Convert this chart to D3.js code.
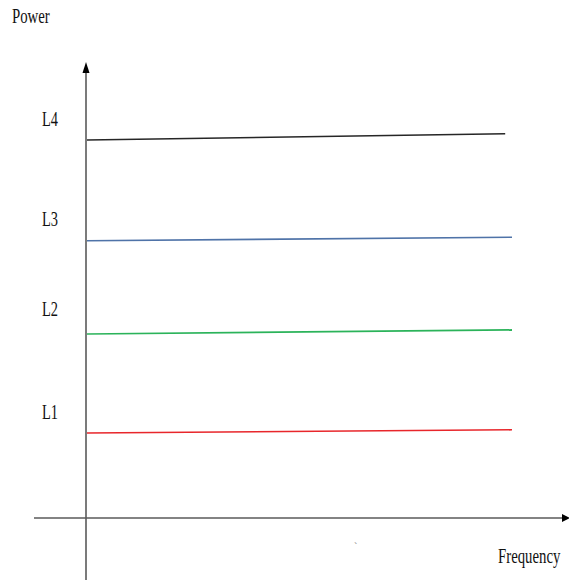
<!DOCTYPE html>
<html><head><meta charset="utf-8">
<script src="https://cdn.jsdelivr.net/npm/d3@7"></script>
<style>html,body{margin:0;padding:0;background:#fff;}svg{display:block;}</style>
</head><body>
<script>
// Data
const levelNames = ["L1", "L2", "L3", "L4"];
const levelStart = [1.89, 4.09, 6.16, 8.40];
const levelEnd   = [1.96, 4.18, 6.24, 8.54];
const levelEndX  = [100, 100, 100, 98.4];
const levelLabelPos = [2.2, 4.49, 6.49, 8.71];
const levelColors = ["#e8262b", "#2bb35a", "#4f73a8", "#262626"];
const xLabel = "Frequency";
const yLabel = "Power";

const W = 569, H = 580;
const svg = d3.select("body").append("svg").attr("width", W).attr("height", H);

const x = d3.scaleLinear().domain([0, 100]).range([87, 512]);
const y = d3.scaleLinear().domain([0, 10]).range([518, 68]);

// axes
const axisColor = "#5a5a5a";
svg.append("line").attr("x1", 86).attr("x2", 86).attr("y1", 72).attr("y2", 580)
  .attr("stroke", axisColor).attr("stroke-width", 1.6);
svg.append("path").attr("d", "M86,62 L82.5,73 L89.5,73 Z").attr("fill", "#000");
svg.append("line").attr("x1", 34).attr("x2", 563).attr("y1", y(0)).attr("y2", y(0))
  .attr("stroke", axisColor).attr("stroke-width", 1.6);
svg.append("path").attr("d", `M570,${y(0)} L562,${y(0)-4} L562,${y(0)+4} Z`).attr("fill", "#000");

// level lines
levelNames.forEach((n, i) => {
  svg.append("line")
    .attr("x1", x(0)).attr("y1", y(levelStart[i]))
    .attr("x2", x(levelEndX[i])).attr("y2", y(levelEnd[i]))
    .attr("stroke", levelColors[i]).attr("stroke-width", 1.6);
  svg.append("text")
    .attr("transform", `translate(42,${y(levelLabelPos[i])}) scale(0.72,1)`)
    .attr("font-family", "Liberation Serif, Times New Roman, serif")
    .attr("font-size", 20).attr("fill", "#111").text(n);
});

// axis titles
svg.append("text").attr("transform", "translate(12,23) scale(0.74,1)")
  .attr("font-family", "Liberation Serif, Times New Roman, serif")
  .attr("font-size", 20).attr("fill", "#111").text(yLabel);
svg.append("text").attr("transform", "translate(498,563) scale(0.74,1)")
  .attr("font-family", "Liberation Serif, Times New Roman, serif")
  .attr("font-size", 20).attr("fill", "#111").text(xLabel);
svg.append("text").attr("x", 354).attr("y", 550)
  .attr("font-family", "Liberation Serif, serif").attr("font-size", 10).attr("fill", "#777").text("`");
</script>
</body></html>
